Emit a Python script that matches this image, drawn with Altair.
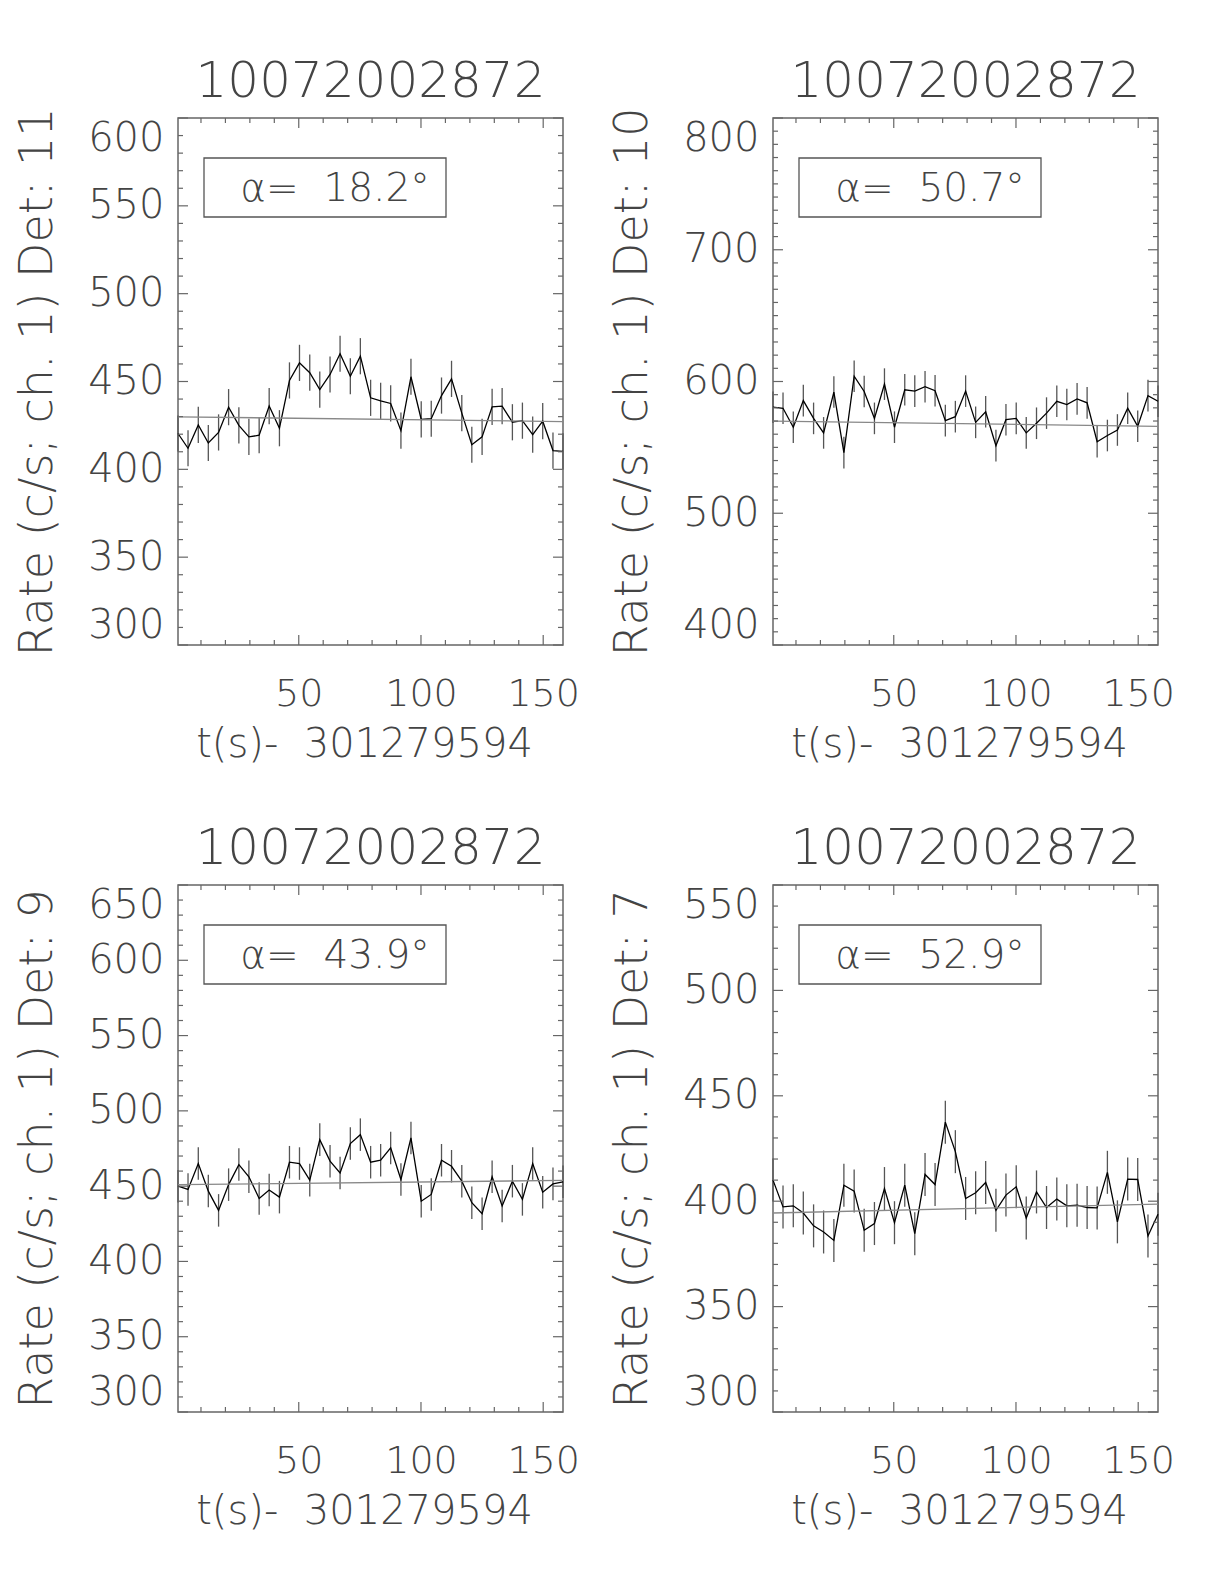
import altair as alt
import pandas as pd

# time bins (s, relative to 301279594)
t_s = [0.6, 4.7, 8.9, 13.0, 17.2, 21.3, 25.5, 29.6, 33.8, 37.9, 42.1, 46.2, 50.3,
       54.5, 58.6, 62.8, 66.9, 71.1, 75.2, 79.4, 83.5, 87.6, 91.8, 95.9, 100.1,
       104.2, 108.4, 112.5, 116.7, 120.8, 125.0, 129.1, 133.2, 137.4, 141.5,
       145.7, 149.8, 154.0, 158.1]
x_domain = [0.6, 158.1]
x_labels = [50, 100, 150]

rate_det11 = [420.4, 412.0, 425.3, 415.0, 421.0, 435.4, 425.0, 418.5, 419.4, 436.0,
              423.4, 450.6, 460.6, 455.0, 445.4, 454.0, 465.8, 453.0, 464.4, 440.7,
              439.0, 437.5, 422.0, 452.7, 428.4, 428.8, 442.0, 451.5, 432.0, 414.0,
              418.5, 435.6, 436.0, 426.8, 427.7, 419.8, 427.4, 410.7, 410.2]
rate_det10 = [580.5, 579.7, 565.3, 585.5, 572.0, 561.0, 592.0, 546.0, 604.0, 592.4,
              572.0, 598.0, 565.3, 593.7, 592.7, 596.0, 593.0, 570.3, 573.3, 592.7,
              569.0, 577.0, 551.3, 571.0, 572.0, 561.0, 568.3, 576.0, 585.0, 582.5,
              586.8, 583.8, 554.3, 559.0, 563.2, 579.7, 566.0, 589.3, 585.0]
rate_det9 = [450.0, 447.8, 465.0, 446.7, 433.9, 451.0, 464.3, 456.2, 441.8, 447.4,
             442.7, 465.9, 465.0, 454.0, 480.9, 466.6, 458.8, 478.3, 484.2, 465.9,
             467.2, 475.4, 454.4, 482.0, 440.0, 444.5, 467.2, 463.2, 453.3, 439.0,
             431.7, 456.2, 436.8, 453.3, 441.2, 465.0, 446.0, 451.5, 452.9]
rate_det7 = [410.0, 397.3, 397.8, 394.4, 388.3, 385.4, 381.4, 407.6, 404.8, 386.2,
             389.4, 406.0, 389.8, 407.6, 384.6, 412.7, 407.9, 437.5, 423.5, 401.3,
             404.0, 408.9, 395.7, 402.9, 406.8, 392.0, 404.4, 397.0, 401.0, 397.8,
             398.1, 397.0, 396.8, 413.7, 390.2, 410.5, 410.3, 383.5, 393.8]

errors = [10.3, 12.0, 10.8, 10.2]
fits = [[429.9, 427.2], [570.0, 566.0], [451.0, 453.8], [394.4, 398.6]]
y_domains = [[300, 600], [400, 800], [300, 650], [300, 550]]
y_steps = [50, 100, 50, 50]
detectors = ["11", "10", "9", "7"]
alphas = ["18.2", "50.7", "43.9", "52.9"]
title_text = "10072002872"
x_title = "t(s)-\u00a0 301279594"

W, H = 385, 527
FONT = "DejaVu Sans"
TXT = "#444444"
FRAME = "#666666"


def tick_rules(values, channel, scale, axis, side, length):
    df = pd.DataFrame({"v": values})
    c = alt.Chart(df).mark_rule(color=FRAME, strokeWidth=1.2)
    if channel == "x":
        enc = dict(x=alt.X("v:Q", scale=scale, axis=axis))
        if side == "bottom":
            enc.update(y=alt.value(H), y2=alt.value(H - length))
        else:
            enc.update(y=alt.value(0), y2=alt.value(length))
    else:
        enc = dict(y=alt.Y("v:Q", scale=scale, axis=axis))
        if side == "left":
            enc.update(x=alt.value(0), x2=alt.value(length))
        else:
            enc.update(x=alt.value(W - length), x2=alt.value(W))
    return c.encode(**enc)


def make_panel(rate, err, fit, ydom, ystep, det, alpha):
    df = pd.DataFrame({"t": t_s, "rate": rate})
    df["lo"] = df["rate"] - err
    df["hi"] = df["rate"] + err
    xs = alt.Scale(domain=x_domain, nice=False, zero=False)
    ys = alt.Scale(domain=ydom, nice=False, zero=False)
    ylabels = list(range(ydom[0], ydom[1] + 1, ystep))
    xaxis = alt.Axis(values=x_labels, title=x_title, labelPadding=30,
                     titleX=186, titleY=99, titleBaseline="middle",
                     titleAlign="center", titleFontSize=40, labelFontSize=38,
                     format="d")
    yaxis = alt.Axis(values=ylabels, title=f"Rate (c/s; ch. 1) Det: {det}",
                     labelPadding=14, labelFlush=True, titleX=-141,
                     titleBaseline="middle", titleAlign="center", titleAngle=270,
                     titleFontSize=46, labelFontSize=40, format="d")

    errbars = alt.Chart(df).mark_rule(color="#555555", strokeWidth=1.3).encode(
        x=alt.X("t:Q", scale=xs, axis=xaxis),
        y=alt.Y("lo:Q", scale=ys, axis=yaxis),
        y2="hi:Q",
    )
    line = alt.Chart(df).mark_line(color="black", strokeWidth=1.3).encode(
        x=alt.X("t:Q", scale=xs, axis=xaxis),
        y=alt.Y("rate:Q", scale=ys, axis=yaxis))
    fit_df = pd.DataFrame({"t": x_domain, "rate": fit})
    fitline = alt.Chart(fit_df).mark_line(color="#888888", strokeWidth=1.3).encode(
        x=alt.X("t:Q", scale=xs, axis=xaxis),
        y=alt.Y("rate:Q", scale=ys, axis=yaxis))

    xminor = [v for v in range(10, 160, 10) if v not in x_labels]
    yminor = [v for v in range(ydom[0], ydom[1] + 1, 10) if v not in ylabels]
    ticks = [
        tick_rules(xminor, "x", xs, xaxis, "bottom", 5),
        tick_rules(xminor, "x", xs, xaxis, "top", 5),
        tick_rules(x_labels, "x", xs, xaxis, "bottom", 10),
        tick_rules(x_labels, "x", xs, xaxis, "top", 10),
        tick_rules(yminor, "y", ys, yaxis, "left", 5),
        tick_rules(yminor, "y", ys, yaxis, "right", 5),
        tick_rules(ylabels, "y", ys, yaxis, "left", 10),
        tick_rules(ylabels, "y", ys, yaxis, "right", 10),
    ]

    dummy = pd.DataFrame({"a": [0]})
    box = alt.Chart(dummy).mark_rect(fillOpacity=0, stroke="#555555",
                                     strokeWidth=1.3).encode(
        x=alt.value(26), x2=alt.value(268), y=alt.value(40), y2=alt.value(99))
    label = alt.Chart(dummy).mark_text(
        text=f"\u03b1=\u00a0 {alpha}\u00b0", fontSize=39, font=FONT, fontWeight=200,
        color=TXT, align="center", baseline="middle").encode(
        x=alt.value(157), y=alt.value(71))
    title = alt.Chart(dummy).mark_text(
        text=title_text, fontSize=50, font=FONT, fontWeight=200, color=TXT,
        align="center", baseline="alphabetic").encode(
        x=alt.value(W / 2), y=alt.value(-21))

    return alt.layer(errbars, line, fitline, *ticks, box, label, title).properties(
        width=W, height=H,
    )


rates = [rate_det11, rate_det10, rate_det9, rate_det7]
panels = [make_panel(rates[i], errors[i], fits[i], y_domains[i], y_steps[i],
                     detectors[i], alphas[i]) for i in range(4)]

chart = alt.vconcat(
    alt.hconcat(panels[0], panels[1], spacing=27),
    alt.hconcat(panels[2], panels[3], spacing=27),
    spacing=58,
).properties(
    padding={"left": 5, "top": 48, "right": 5, "bottom": 5},
).configure_view(
    stroke=FRAME, strokeWidth=1.5
).configure_axis(
    grid=False, ticks=False, domain=False,
    labelFont=FONT, titleFont=FONT, labelColor=TXT, titleColor=TXT,
    labelFontWeight=200, titleFontWeight=200,
)

chart.save("out.html", embed_options={"renderer": "svg", "actions": False})
